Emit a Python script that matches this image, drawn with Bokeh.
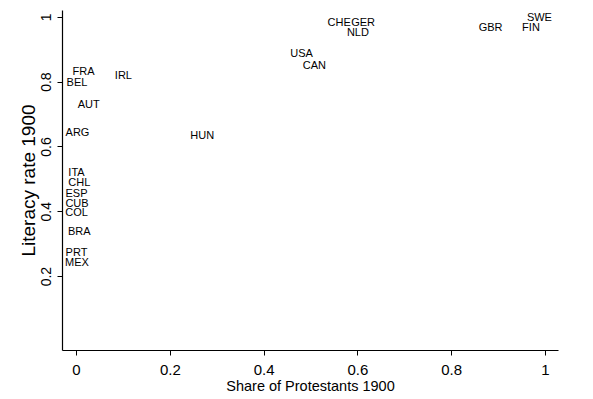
from bokeh.plotting import figure
from bokeh.models import ColumnDataSource, FixedTicker, Range1d
from bokeh.core.properties import value
from bokeh.embed import file_html
from bokeh.resources import INLINE

countries = ["FRA", "BEL", "IRL", "AUT", "ARG", "HUN", "ITA", "CHL", "ESP", "CUB", "COL",
             "BRA", "PRT", "MEX", "USA", "CAN", "CHE", "GER", "NLD", "GBR", "FIN", "SWE"]
protestant_share = [0.015, 0.001, 0.100, 0.026, 0.002, 0.268, 0.000, 0.006, 0.000, 0.001, 0.000,
                    0.006, 0.000, 0.001, 0.480, 0.507, 0.560, 0.611, 0.600, 0.883, 0.969, 0.987]
literacy_rate = [0.833, 0.801, 0.823, 0.733, 0.645, 0.638, 0.522, 0.491, 0.457, 0.427, 0.400,
                 0.342, 0.276, 0.244, 0.890, 0.854, 0.987, 0.987, 0.956, 0.969, 0.969, 1.000]
x_ticks = [0, 0.2, 0.4, 0.6, 0.8, 1]
y_ticks = [0.2, 0.4, 0.6, 0.8, 1]
x_tick_labels = {0: "0", 0.2: "0.2", 0.4: "0.4", 0.6: "0.6", 0.8: "0.8", 1: "1"}
y_tick_labels = {0.2: "0.2", 0.4: "0.4", 0.6: "0.6", 0.8: "0.8", 1: "1"}

src = ColumnDataSource(dict(x=protestant_share, y=literacy_rate, lab=countries))

FONT = "Liberation Sans"

p = figure(width=593, height=399, output_backend="svg", toolbar_location=None,
           x_range=Range1d(-0.0299, 1.0277), y_range=Range1d(-0.028, 1.021),
           min_border_left=62, min_border_right=35, min_border_top=10, min_border_bottom=49)
p.outline_line_color = None
p.background_fill_color = "white"
p.border_fill_color = "white"
p.xgrid.grid_line_color = None
p.ygrid.grid_line_color = None

p.text(x="x", y="y", text="lab", source=src, text_align="center", text_baseline="middle",
       text_font=value(FONT), text_font_size="11px", text_color="black")

for ax in (p.xaxis[0], p.yaxis[0]):
    ax.axis_line_color = "black"
    ax.axis_line_width = 1.2
    ax.major_tick_line_color = "black"
    ax.major_tick_out = 5
    ax.major_tick_in = 0
    ax.minor_tick_line_color = None
    ax.major_label_text_font = FONT
    ax.axis_label_text_font = FONT
    ax.axis_label_text_font_style = "normal"
    ax.major_label_text_color = "black"
    ax.axis_label_text_color = "black"

p.xaxis.ticker = FixedTicker(ticks=x_ticks)
p.xaxis.major_label_overrides = x_tick_labels
p.xaxis.axis_label = "Share of Protestants 1900"
p.xaxis.major_label_text_font_size = "15px"
p.xaxis.axis_label_text_font_size = "14.5px"
p.xaxis.major_label_standoff = 9
p.xaxis.axis_label_standoff = 0

p.yaxis.ticker = FixedTicker(ticks=y_ticks)
p.yaxis.major_label_overrides = y_tick_labels
p.yaxis.axis_label = "Literacy rate 1900"
p.yaxis.major_label_orientation = "vertical"
p.yaxis.major_label_text_font_size = "14px"
p.yaxis.axis_label_text_font_size = "19px"
p.yaxis.major_label_standoff = 6
p.yaxis.axis_label_standoff = 0

open("out.html", "w").write(file_html(p, INLINE))
